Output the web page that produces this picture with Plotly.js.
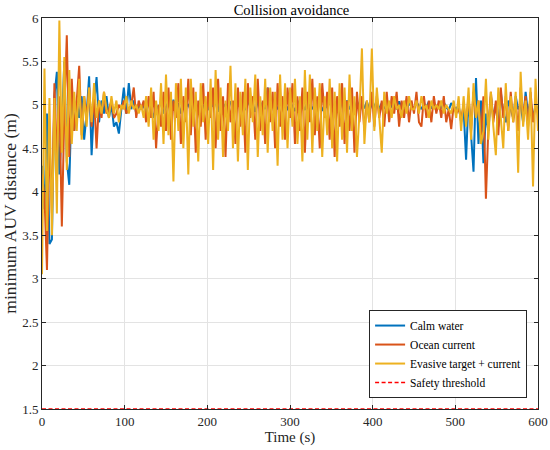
<!DOCTYPE html>
<html>
<head>
<meta charset="utf-8">
<script src="https://cdn.plot.ly/plotly-3.0.1.min.js"></script>
<style>html,body{margin:0;padding:0;background:#fff;}#chart{width:550px;height:450px;}</style>
</head>
<body>
<div id="chart"></div>
<script>
// time step of the sampled series (s)
const timeStart = 0, timeStep = 3;

const seriesNames = ["Calm water", "Ocean current", "Evasive target + current", "Safety threshold"];

const calmWater = [
4.30,3.80,4.90,3.40,3.45,5.10,5.38,4.20,4.75,5.50,
4.35,4.08,5.15,4.70,5.05,4.85,5.10,4.60,4.90,5.33,
4.42,5.00,5.32,4.80,5.05,4.90,5.10,4.85,5.00,4.75,
4.80,4.67,4.95,5.20,4.90,5.25,4.95,5.05,4.90,5.00,
4.95,5.00,4.90,5.05,4.95,4.85,5.00,4.95,5.05,4.90,
4.98,5.03,4.92,5.06,4.95,5.02,4.90,5.05,4.97,5.01,
4.93,5.04,4.99,4.91,5.06,4.96,5.02,4.94,5.05,4.98,
5.03,4.92,5.07,4.97,5.01,4.93,5.04,4.99,4.95,5.06,
4.96,5.02,4.94,5.05,4.98,5.01,4.92,5.04,4.97,5.03,
4.95,5.20,4.93,5.04,4.99,4.95,5.05,4.97,5.02,4.94,
5.03,4.98,4.93,5.05,4.96,5.01,4.94,5.04,4.99,4.95,
5.02,4.96,5.05,4.93,5.00,4.97,5.04,4.95,5.01,4.98,
4.94,5.03,4.98,5.05,4.95,5.01,4.93,5.04,4.97,5.02,
4.96,5.04,4.93,5.01,4.98,5.05,4.95,5.02,4.97,4.94,
5.03,4.98,5.01,4.95,5.04,4.97,5.00,4.94,5.02,4.98,
4.96,5.03,4.99,4.95,5.02,4.97,5.04,4.96,5.00,4.98,
5.01,4.96,5.03,4.97,4.94,5.02,4.98,4.95,5.00,4.80,
4.95,4.37,5.10,4.60,4.23,5.31,4.55,5.05,4.33,4.90,
4.70,5.10,4.85,5.00,4.75,5.15,4.90,4.80,5.05,4.95,
4.85,5.10,4.95,5.00,4.80,5.15,4.90,5.05,4.85,5.00,
4.95];

const oceanCurrent = [
4.20,3.95,3.10,4.65,3.75,5.25,4.40,5.10,3.60,4.90,
5.80,4.40,5.30,4.70,5.05,5.45,4.65,5.10,4.85,5.20,
4.75,5.10,4.50,5.05,4.85,5.15,4.90,4.95,5.05,4.85,
4.90,5.00,4.95,5.05,4.90,4.95,5.00,5.20,4.85,5.05,
4.95,5.05,4.80,5.10,4.85,5.15,4.50,5.00,4.75,5.15,
4.70,5.20,4.60,5.05,4.85,5.25,4.55,5.10,4.80,5.30,
4.65,5.20,4.45,5.05,4.75,5.25,4.60,5.15,4.85,5.20,
4.50,5.30,4.70,5.10,4.40,5.25,4.80,5.05,4.55,5.20,
4.75,5.15,4.45,5.25,4.85,5.10,4.60,5.30,4.70,5.05,
4.55,5.20,4.80,5.15,4.50,5.25,4.75,5.10,4.60,5.20,
4.85,5.25,4.55,5.10,4.70,5.20,4.45,5.15,4.80,5.30,
4.65,5.10,4.50,5.25,4.85,5.15,4.60,5.20,4.40,5.10,
4.75,5.25,4.55,5.05,4.70,5.20,4.45,5.15,4.80,5.10,
4.70,5.05,4.80,5.15,4.75,5.10,4.85,5.05,4.75,5.15,
4.80,5.10,4.90,5.15,4.75,5.05,4.85,5.10,4.80,5.05,
4.90,5.15,4.80,4.75,5.10,4.85,5.05,4.80,5.10,4.90,
5.05,4.85,5.10,4.80,4.95,4.72,5.00,4.90,4.95,4.85,
5.00,4.80,5.10,4.70,5.15,4.85,5.05,4.65,5.10,3.92,
4.75,5.15,4.80,5.05,4.65,5.20,4.85,5.10,4.70,5.15,
4.80,5.05,4.70,5.20,4.85,5.10,4.75,5.15,4.80,5.00,
4.90];

const evasiveTarget = [
3.05,5.42,3.55,5.08,3.50,5.08,3.75,5.97,4.45,5.55,
4.25,5.40,4.55,5.15,4.70,5.30,4.60,5.10,4.75,5.20,
4.80,5.25,4.85,5.05,4.90,5.15,4.95,4.85,5.10,4.90,
5.05,4.80,5.00,4.95,5.10,4.90,5.05,4.95,5.00,4.90,
5.00,4.85,5.10,4.75,5.20,4.60,5.05,4.70,5.25,4.55,
5.35,4.65,5.15,4.12,5.25,4.70,5.30,4.50,5.20,4.20,
5.30,4.75,5.15,4.35,5.25,4.80,5.10,4.55,5.30,4.25,
5.40,4.60,5.20,4.40,5.05,4.70,5.45,4.50,5.25,4.35,
5.15,4.65,5.30,4.25,5.20,4.80,5.35,4.40,5.10,4.65,
5.30,4.45,5.20,4.70,5.15,4.30,5.35,4.60,5.25,4.50,
5.20,4.75,5.30,4.55,5.10,4.35,5.40,4.60,5.35,4.45,
5.20,4.70,5.25,4.40,5.10,4.65,5.30,4.50,5.15,4.35,
5.25,4.60,5.20,4.45,5.35,4.70,5.10,4.40,4.90,5.65,
4.55,5.05,4.80,5.65,4.70,5.20,4.85,4.45,5.15,4.90,
5.05,4.85,5.10,4.95,5.00,4.85,5.05,4.90,5.10,4.95,
4.95,5.05,4.90,5.10,4.95,5.00,4.85,5.05,4.95,5.00,
4.95,5.05,4.90,5.00,4.95,4.90,5.05,4.85,5.10,4.70,
5.10,4.75,5.20,4.60,5.25,4.85,5.05,4.55,4.70,5.30,
4.60,5.15,4.75,4.42,5.20,4.85,4.50,5.25,4.70,5.10,
4.80,5.15,4.22,5.38,4.75,5.05,4.60,5.20,4.06,5.30,
4.70];

const safetyThreshold = 1.5;
const xRange = [0, 600];
const yRange = [1.5, 6];
const xTicks = [0, 100, 200, 300, 400, 500, 600];
const yTicks = [1.5, 2, 2.5, 3, 3.5, 4, 4.5, 5, 5.5, 6];
const yTickLabels = ["1.5", "2", "2.5", "3", "3.5", "4", "4.5", "5", "5.5", "6"];

const timeAxis = calmWater.map((_, i) => timeStart + i * timeStep);

const font = "Liberation Serif";
const axisColor = "#262626";

const traces = [
  {x: timeAxis, y: calmWater, name: seriesNames[0], type: "scatter", mode: "lines",
   line: {color: "#0072BD", width: 2}},
  {x: timeAxis, y: oceanCurrent, name: seriesNames[1], type: "scatter", mode: "lines",
   line: {color: "#D95319", width: 2}},
  {x: timeAxis, y: evasiveTarget, name: seriesNames[2], type: "scatter", mode: "lines",
   line: {color: "#EDB120", width: 2}},
  {x: xRange, y: [safetyThreshold, safetyThreshold], name: seriesNames[3], type: "scatter", mode: "lines",
   line: {color: "#FF0000", width: 1.5, dash: "4px,2.5px"}, cliponaxis: false}
];

const layout = {
  width: 550, height: 450,
  margin: {l: 42, r: 12, t: 18, b: 41},
  paper_bgcolor: "#fff", plot_bgcolor: "#fff",
  font: {family: font, size: 13, color: axisColor},
  title: {text: "Collision avoidance", font: {family: font, size: 14.5, color: "#000"},
          x: 0.53, xanchor: "center", y: 0.977, yanchor: "middle"},
  xaxis: {range: xRange, tickvals: xTicks, ticks: "inside", ticklen: 4, tickcolor: axisColor,
          showline: true, linecolor: axisColor, linewidth: 1, mirror: "ticks",
          showgrid: true, gridcolor: "#e3e3e3", gridwidth: 1, zeroline: false,
          tickfont: {family: font, size: 13, color: axisColor},
          title: {text: "Time (s)", font: {family: font, size: 15, color: axisColor}, standoff: 3}},
  yaxis: {range: yRange, tickvals: yTicks, ticktext: yTickLabels, ticks: "inside", ticklen: 4, tickcolor: axisColor,
          showline: true, linecolor: axisColor, linewidth: 1, mirror: "ticks",
          showgrid: true, gridcolor: "#e3e3e3", gridwidth: 1, zeroline: false,
          tickfont: {family: font, size: 13, color: axisColor},
          title: {text: "minimum AUV distance (m)", font: {family: font, size: 17.5, color: axisColor}, standoff: 3}},
  showlegend: true,
  legend: {x: 0.978, y: 0.028, xanchor: "right", yanchor: "bottom",
           bgcolor: "#fff", bordercolor: axisColor, borderwidth: 1,
           font: {family: font, size: 11.5, color: "#000"},
           tracegroupgap: 0, itemwidth: 30}
};

Plotly.newPlot("chart", traces, layout, {displayModeBar: false, staticPlot: true});
</script>
</body>
</html>
